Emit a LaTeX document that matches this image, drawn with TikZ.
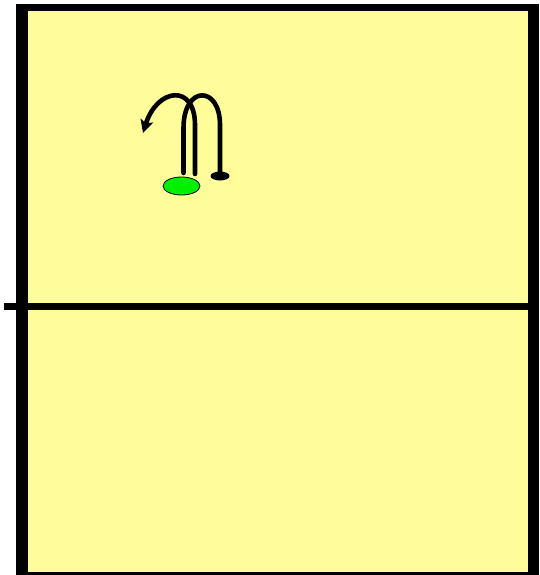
\documentclass[tikz,border=0pt]{standalone}
\usetikzlibrary{shapes.geometric,arrows.meta}
\definecolor{court}{RGB}{255,253,153}
\definecolor{ballgreen}{RGB}{0,240,0}
\tikzset{
  courtline/.style={fill=black,draw=none},
  movepath/.style={line width=4.6pt,line cap=round},
}
\begin{document}
\begin{tikzpicture}[x=1pt,y=-1pt]
\useasboundingbox (0,0) rectangle (539,575);
\fill[white] (0,0) rectangle (539,575);
% court
\fill[court] (22,7) rectangle (534,575);
\fill[courtline] (16,4) rectangle (28,575);
\fill[courtline] (528,4) rectangle (539,575);
\fill[courtline] (16,4) rectangle (539,11);
\fill[courtline] (16,572) rectangle (539,575);
% net
\fill[courtline] (4,303) rectangle (539,310);
% player and path
\node[ellipse,draw=black,line width=0.8pt,fill=ballgreen,minimum width=37pt,minimum height=18pt,inner sep=0pt] (ball) at (181.5,186) {};
\node[ellipse,fill=black,minimum width=19pt,minimum height=9pt,inner sep=0pt] (start) at (220,176) {};
\coordinate (down) at (183.5,173);
\coordinate (up) at (195,174);
\coordinate (tip) at (143,133);
\draw[movepath] (start.center) -- (220,125) .. controls (220,85) and (183.5,85) .. (183.5,128) -- (down);
\draw[movepath,-{Stealth[length=13pt,width=13pt,inset=3pt]}] (up) -- (195,125) .. controls (195,83) and (157,88) .. (tip);
\end{tikzpicture}
\end{document}
